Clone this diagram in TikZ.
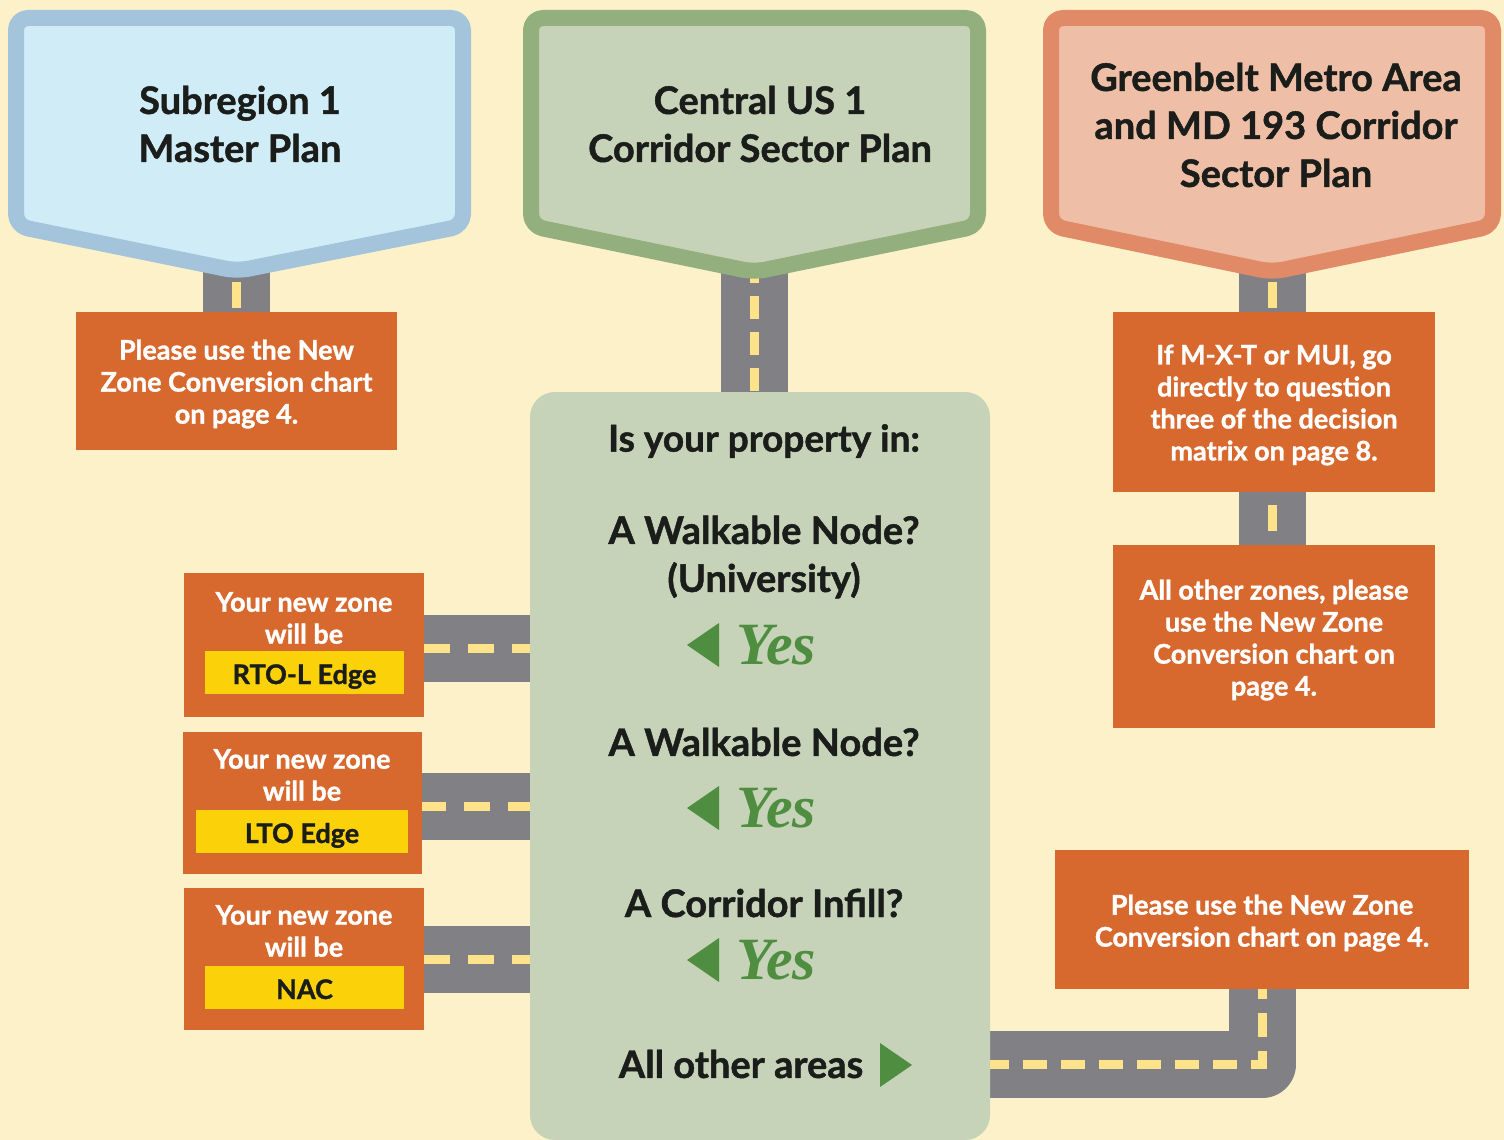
\documentclass[tikz,border=0pt]{standalone}
\usepackage{fontspec}
\setmainfont{Lato}[BoldFeatures={FakeBold=1.2}]
\newfontfamily\yesfont{Liberation Serif}
\definecolor{cream}{HTML}{FDF1C9}
\definecolor{boxor}{HTML}{D8692E}
\definecolor{roadgray}{HTML}{808085}
\definecolor{dashy}{HTML}{FFE38A}
\definecolor{labely}{HTML}{FBD20A}
\definecolor{bluefill}{HTML}{D0ECF7}
\definecolor{blueedge}{HTML}{A3C4DA}
\definecolor{greenfill}{HTML}{C6D3B8}
\definecolor{greenedge}{HTML}{93AF7D}
\definecolor{orfill}{HTML}{EEBFA6}
\definecolor{oredge}{HTML}{E08A68}
\definecolor{yesgreen}{HTML}{4F8E40}
\definecolor{ink}{HTML}{1A1D1A}
\pgfdeclarelayer{bg}
\pgfdeclarelayer{roads}
\pgfsetlayers{bg,roads,main}
\begin{document}
\begin{tikzpicture}[x=1pt,y=-1pt,
  shield/.style={line width=16, line join=round, rounded corners=12},
  shieldtext/.style={text=ink, font=\bfseries\fontsize{38}{48}\selectfont, align=center},
  orbox/.style={fill=boxor, inner sep=0},
  ortext/.style={text=white, font=\bfseries\fontsize{27}{32}\selectfont, align=center, inner sep=0},
  zonetext/.style={text=white, font=\bfseries\fontsize{27}{32}\selectfont, align=center, inner sep=0},
  zonelabel/.style={fill=labely, text=ink, font=\bfseries\fontsize{27}{32}\selectfont, inner sep=0, minimum height=43, text height=23, text depth=0},
  road/.style={draw=roadgray, line width=67},
  lane/.style={draw=dashy, line width=9},
  qtext/.style={text=ink, font=\bfseries\fontsize{38}{48}\selectfont, align=center},
  yes/.style={text=yesgreen, font=\yesfont\bfseries\itshape\fontsize{60}{60}\selectfont, inner sep=0},
]
\begin{pgfonlayer}{bg}
\fill[cream] (0,0) rectangle (1504,1140);
\end{pgfonlayer}
\useasboundingbox (0,0) rectangle (1504,1140);

% shields
\draw[shield, fill=bluefill, draw=blueedge] (16,18) -- (463,18) -- (463,226) -- (237,271) -- (16,226) -- cycle;
\draw[shield, fill=greenfill, draw=greenedge] (531,18) -- (978,18) -- (978,226) -- (754,272) -- (531,226) -- cycle;
\draw[shield, fill=orfill, draw=oredge] (1051,18) -- (1493,18) -- (1493,226) -- (1272,272) -- (1051,226) -- cycle;
\coordinate (s1tip) at (236,268);
\coordinate (s2tip) at (754,268);
\coordinate (s3tip) at (1272.5,268);
\node[shieldtext] (s1) at (240,124) {Subregion 1\\Master Plan};
\node[shieldtext] (s2) at (760,124) {Central US 1\\Corridor Sector Plan};
\node[shieldtext] (s3) at (1276,125) {Greenbelt Metro Area\\and MD 193 Corridor\\Sector Plan};

% orange boxes
\node[orbox, minimum width=321, minimum height=138] (boxA) at (236.5,381) {};
\node[ortext] (boxAt) at (236.5,384) {Please use the New\\Zone Conversion chart\\on page 4.};
\node[orbox, minimum width=322, minimum height=180] (boxB) at (1274,402) {};
\node[ortext] (boxBt) at (1274,405) {If M-X-T or MUI, go\\directly to question\\three of the decision\\matrix on page 8.};
\node[orbox, minimum width=322, minimum height=183] (boxC) at (1274,636.5) {};
\node[ortext] (boxCt) at (1274,640) {All other zones, please\\use the New Zone\\Conversion chart on\\page 4.};
\node[orbox, minimum width=414, minimum height=139] (boxD) at (1262,919.5) {};
\node[ortext] (boxDt) at (1262,923) {Please use the New Zone\\Conversion chart on page 4.};

% big green box
\node[fill=greenfill, rounded corners=25, minimum width=460, minimum height=748, inner sep=0] (big) at (760,766) {};
\node[qtext, font=\bfseries\fontsize{37}{48}\selectfont] (q0) at (764,441) {Is your property in:};
\node[qtext] (q1) at (764,557) {A Walkable Node?\\(University)};
\node[yes] (y1) at (776,645) {Yes};
\node[qtext] (q2) at (764,742) {A Walkable Node?};
\node[yes] (y2) at (776,808) {Yes};
\node[qtext] (q3) at (764,903) {A Corridor Infill?};
\node[yes] (y3) at (776,960) {Yes};
\node[qtext] (q4) at (741,1064) {All other areas};
\fill[yesgreen] (687,645) -- (719,623) -- (719,667) -- cycle;
\fill[yesgreen] (687,808) -- (719,786) -- (719,830) -- cycle;
\fill[yesgreen] (687,960) -- (719,938) -- (719,982) -- cycle;
\fill[yesgreen] (912,1065) -- (880,1043) -- (880,1087) -- cycle;

% left zone boxes
\node[orbox, minimum width=240, minimum height=144] (rto) at (304,645) {};
\node[zonetext] (rtot) at (304,618) {Your new zone\\will be};
\node[zonelabel, minimum width=199] (rtol) at (304.5,672.5) {RTO-L Edge};
\node[orbox, minimum width=239, minimum height=142] (lto) at (302.5,803) {};
\node[zonetext] (ltot) at (302,775) {Your new zone\\will be};
\node[zonelabel, minimum width=212] (ltol) at (302,831.5) {LTO Edge};
\node[orbox, minimum width=240, minimum height=142] (nac) at (304,959) {};
\node[zonetext] (nact) at (304,931) {Your new zone\\will be};
\node[zonelabel, minimum width=199] (nacl) at (304.5,987.5) {NAC};

% roads
\coordinate (rjoin) at (1262.5,1064);
\begin{pgfonlayer}{roads}
\draw[road] (s1tip) -- (s1tip |- boxA.north);
\draw[lane, dash pattern=on 26 off 40, dash phase=52] (s1tip) -- (s1tip |- boxA.north);
\draw[road] (s2tip) -- (s2tip |- big.north);
\draw[lane, dash pattern=on 23 off 13, dash phase=8] (s2tip) -- (s2tip |- big.north);
\draw[road] (s3tip) -- (s3tip |- boxB.north);
\draw[lane, dash pattern=on 26 off 40, dash phase=52] (s3tip) -- (s3tip |- boxB.north);
\draw[road] (s3tip |- boxB.south) -- (s3tip |- boxC.north);
\draw[lane, dash pattern=on 26 off 40, dash phase=53] (s3tip |- boxB.south) -- (s3tip |- boxC.north);
\draw[road] ([yshift=-3]rto.east) -- ([yshift=-3]rto.east -| big.west);
\draw[lane, dash pattern=on 26 off 18] ([yshift=-3]rto.east) -- ([yshift=-3]rto.east -| big.west);
\draw[road] ([yshift=-3]lto.east) -- ([yshift=-3]lto.east -| big.west);
\draw[lane, dash pattern=on 26 off 18, dash phase=2] ([yshift=-3]lto.east) -- ([yshift=-3]lto.east -| big.west);
\draw[road] (nac.east) -- (nac.east -| big.west);
\draw[lane, dash pattern=on 26 off 18] (nac.east) -- (nac.east -| big.west);
\draw[road, line join=round] (big.east |- rjoin) -- (rjoin) -- (boxD.south -| rjoin);
\draw[lane, dash pattern=on 24 off 14, dash phase=5] (big.east |- rjoin) -- (rjoin) -- (boxD.south -| rjoin);
\end{pgfonlayer}
\end{tikzpicture}
\end{document}
